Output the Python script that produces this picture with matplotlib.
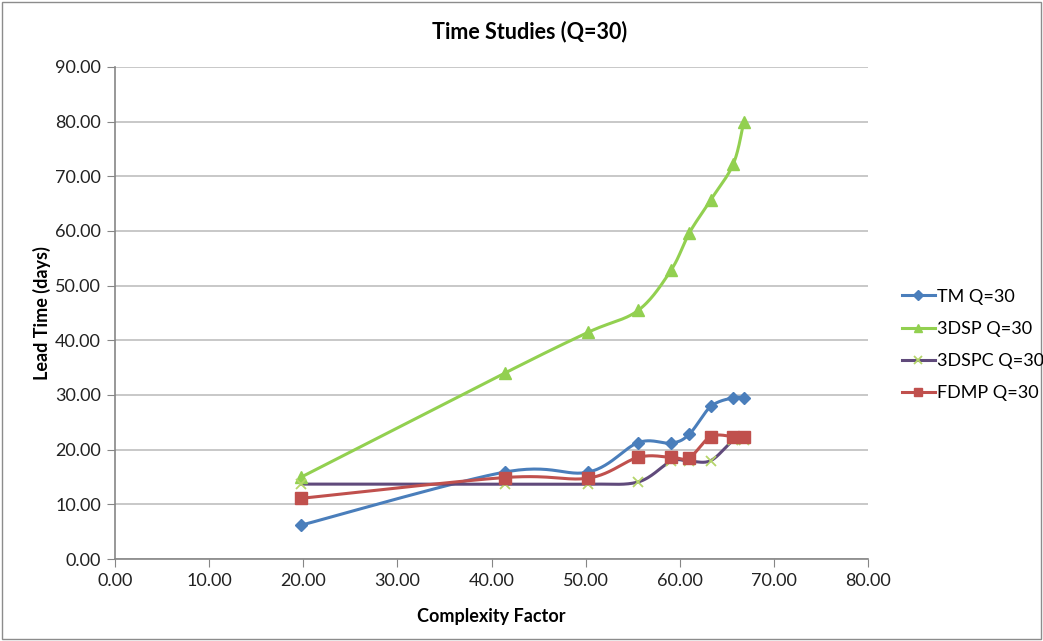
import numpy as np
import matplotlib
matplotlib.use("Agg")
import matplotlib.pyplot as plt
from matplotlib.lines import Line2D

plt.rcParams['font.family'] = ['Lato', 'DejaVu Sans']

complexity = [19.8, 41.4, 50.3, 55.6, 59.1, 61.0, 63.3, 65.7, 66.8]
tm = [6.2, 15.9, 15.9, 21.3, 21.2, 22.8, 27.9, 29.5, 29.5]
dsp = [15.0, 34.0, 41.5, 45.5, 52.9, 59.6, 65.7, 72.3, 80.0]
dspc = [13.7, 13.7, 13.7, 14.1, 17.9, 17.9, 18.0, 21.7, 21.7]
fdmp = [11.1, 14.9, 14.8, 18.6, 18.6, 18.5, 22.4, 22.4, 22.4]
labels = ['TM Q=30', '3DSP Q=30', '3DSPC Q=30', 'FDMP Q=30']


def smooth(x, y, n=30):
    x = np.asarray(x, float); y = np.asarray(y, float)
    px = np.concatenate([[x[0]], x, [x[-1]]])
    py = np.concatenate([[y[0]], y, [y[-1]]])
    xs, ys = [], []
    t = np.linspace(0, 1, n)
    for i in range(1, len(px) - 2):
        p0 = np.array([px[i], py[i]]); p3 = np.array([px[i + 1], py[i + 1]])
        c1 = p0 + (np.array([px[i + 1], py[i + 1]]) - np.array([px[i - 1], py[i - 1]])) / 6
        c2 = p3 - (np.array([px[i + 2], py[i + 2]]) - np.array([px[i], py[i]])) / 6
        b = ((1 - t) ** 3)[:, None] * p0 + (3 * (1 - t) ** 2 * t)[:, None] * c1 \
            + (3 * (1 - t) * t ** 2)[:, None] * c2 + (t ** 3)[:, None] * p3
        xs.extend(b[:, 0]); ys.extend(b[:, 1])
    return xs, ys


fig = plt.figure(figsize=(10.43, 6.41), dpi=100)
ax = fig.add_axes([115 / 1043, 1 - 559 / 641, (868 - 115) / 1043, (559 - 67) / 641])

series = [
    (tm, '#4A7EBB', '#4A7EBB', 'D', 6, 2.2),
    (dsp, '#92D050', '#92D050', '^', 8, 2.2),
    (dspc, '#604A7B', '#B5D56A', 'x', 7, 2.2),
    (fdmp, '#C0504D', '#C0504D', 's', 8, 2.2),
]
handles = []
for (vals, lc, mc, mk, ms, lw), lab in zip(series, labels):
    sx, sy = smooth(complexity, vals)
    ax.plot(sx, sy, color=lc, lw=lw, zorder=3)
    if mk == 'x':
        ax.plot(complexity, vals, ls='none', marker=mk, ms=ms, mec=mc, mew=1.3, zorder=4)
    else:
        ax.plot(complexity, vals, ls='none', marker=mk, ms=ms, mfc=mc, mec=mc, zorder=4)
    handles.append(Line2D([0], [0], color=lc, lw=lw, marker=mk, ms=ms * 0.8,
                          mfc=mc, mec=mc, mew=1.3 if mk == 'x' else 1))

ax.set_xlim(0, 80)
ax.set_ylim(0, 90)
ax.set_xticks(np.arange(0, 81, 10))
ax.set_yticks(np.arange(0, 91, 10))
ax.set_xticklabels([f'{v:.2f}' for v in np.arange(0, 81, 10)])
ax.set_yticklabels([f'{v:.2f}' for v in np.arange(0, 91, 10)])
ax.tick_params(labelsize=13, length=6, color='#868686', direction='out', pad=4,
               labelcolor='#222222')
ax.grid(axis='y', color='#BFBFBF', lw=1.2)
ax.set_axisbelow(True)
for s in ['top', 'right']:
    ax.spines[s].set_visible(False)
for s in ['left', 'bottom']:
    ax.spines[s].set_color('#868686')
    ax.spines[s].set_linewidth(1.2)

fig.text(530 / 1043, 1 - 32 / 641, 'Time Studies (Q=30)', fontsize=15.5, fontweight='bold',
         ha='center', va='center')
ax.set_xlabel('Complexity Factor', fontsize=13, fontweight='bold', labelpad=14)
ax.set_ylabel('Lead Time (days)', fontsize=13, fontweight='bold', labelpad=3)

fig.legend(handles, labels, loc='center left', bbox_to_anchor=(895 / 1043, 1 - 345 / 641),
           frameon=False, fontsize=13, handlelength=1.8, labelspacing=0.9, handletextpad=0.1,
           borderaxespad=0)

fig.patches.append(plt.Rectangle((0.002, 0.003), 0.996, 0.994, transform=fig.transFigure,
                                 fill=False, ec='#8C8C8C', lw=1))

fig.savefig('out.png', dpi=100)
